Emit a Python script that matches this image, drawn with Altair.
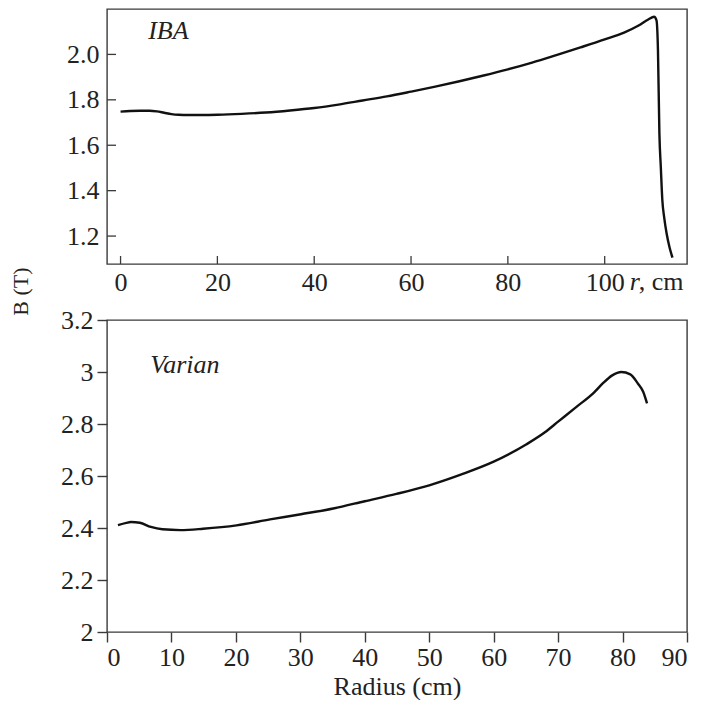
import altair as alt
import pandas as pd

# IBA field profile (radius in cm, B in tesla)
iba_r = [0, 2, 4, 6, 7.5, 9, 10.5, 12, 14, 17, 20, 25, 30, 35, 40, 45, 50, 55, 60,
         65, 70, 75, 80, 85, 90, 95, 100, 104, 107, 109, 110.2, 110.7, 111.0,
         111.3, 111.6, 111.9, 112.3, 112.8, 113.4, 114.0]
iba_b = [1.748, 1.751, 1.752, 1.752, 1.749, 1.743, 1.737, 1.734, 1.733, 1.733, 1.734,
         1.738, 1.744, 1.753, 1.764, 1.779, 1.797, 1.815, 1.836, 1.858, 1.882, 1.907,
         1.934, 1.964, 1.997, 2.031, 2.066, 2.096, 2.127, 2.154, 2.166, 2.150, 2.02,
         1.65, 1.50, 1.36, 1.28, 1.21, 1.15, 1.105]

# Varian field profile
var_r = [1.7, 3.0, 3.7, 5.1, 6.8, 8.6, 11.4, 14.9, 20.1, 25.3, 30.1, 35.1, 40.0,
         44.9, 50.0, 55.0, 60.0, 65.1, 67.9, 70.1, 72.8, 75.6, 77.0, 78.4, 79.8,
         81.2, 82.4, 83.2, 83.8]
var_b = [2.411, 2.420, 2.423, 2.420, 2.404, 2.395, 2.392, 2.397, 2.410, 2.433, 2.453,
         2.475, 2.503, 2.531, 2.564, 2.606, 2.655, 2.722, 2.767, 2.811, 2.865, 2.922,
         2.958, 2.987, 3.000, 2.991, 2.955, 2.924, 2.879]

iba_xticks = [0, 20, 40, 60, 80, 100]
iba_yticks = [1.2, 1.4, 1.6, 1.8, 2.0]
var_xticks = [0, 10, 20, 30, 40, 50, 60, 70, 80, 90]
var_yticks = [2.0, 2.2, 2.4, 2.6, 2.8, 3.0, 3.2]

panel_labels = ["IBA", "Varian"]
unit_label_r = "r"
unit_label_rest = ", cm"
x_title = "Radius (cm)"
y_title = "B (T)"

FONT = "Liberation Serif"
INK = "#222222"
FRAME = "#3a3a3a"
W = 580
H1 = 255
H2 = 312
FS = 26

iba = pd.DataFrame({"r": iba_r, "B": iba_b})
var = pd.DataFrame({"r": var_r, "B": var_b})

# ---------------- top panel (IBA) ----------------
xs1 = alt.Scale(domain=[-2.8, 117], nice=False, zero=False)
ys1 = alt.Scale(domain=[1.077, 2.20], nice=False, zero=False)

line1 = alt.Chart(iba).mark_line(color="#111111", strokeWidth=2.4, interpolate="monotone").encode(
    x=alt.X("r:Q", scale=xs1,
            axis=alt.Axis(values=iba_xticks, ticks=False, domain=False, grid=False,
                          labelPadding=5, title=None, labelFontSize=FS, labelFont=FONT)),
    y=alt.Y("B:Q", scale=ys1,
            axis=alt.Axis(values=iba_yticks, ticks=False, domain=False, grid=False,
                          format=".1f", labelPadding=8, labelFontSize=FS, labelFont=FONT,
                          title=y_title, titleX=-87, titleY=282, titleAngle=-90,
                          titleAlign="center", titleBaseline="middle", titleFont=FONT,
                          titleFontSize=22, titleFontWeight="normal")),
)

xt1 = alt.Chart(pd.DataFrame({"r": iba_xticks})).mark_rule(color=FRAME, strokeWidth=1.3).encode(
    x="r:Q", y=alt.value(H1), y2=alt.value(H1 - 8))
yt1 = alt.Chart(pd.DataFrame({"B": iba_yticks})).mark_rule(color=FRAME, strokeWidth=1.3).encode(
    y="B:Q", x=alt.value(0), x2=alt.value(9))

lab1 = alt.Chart(pd.DataFrame({"r": [5.7], "B": [2.07], "t": [panel_labels[0]]})).mark_text(
    font=FONT, fontSize=26, fontStyle="italic", align="left", baseline="alphabetic", color=INK
).encode(x="r:Q", y="B:Q", text="t:N")

unit_r = alt.Chart(pd.DataFrame({"r": [100], "t": [unit_label_r]})).mark_text(
    font=FONT, fontSize=FS, fontStyle="italic", align="left", baseline="top", color=INK, dx=25
).encode(x="r:Q", y=alt.value(H1 + 5), text="t:N")
unit_rest = alt.Chart(pd.DataFrame({"r": [100], "t": [unit_label_rest]})).mark_text(
    font=FONT, fontSize=FS, align="left", baseline="top", color=INK, dx=34
).encode(x="r:Q", y=alt.value(H1 + 5), text="t:N")

top = alt.layer(line1, xt1, yt1, lab1, unit_r, unit_rest).properties(width=W, height=H1)

# ---------------- bottom panel (Varian) ----------------
xs2 = alt.Scale(domain=[0, 90], nice=False, zero=False)
ys2 = alt.Scale(domain=[2.0, 3.2], nice=False, zero=False)

line2 = alt.Chart(var).mark_line(color="#111111", strokeWidth=2.4, interpolate="monotone").encode(
    x=alt.X("r:Q", scale=xs2,
            axis=alt.Axis(values=var_xticks, ticks=True, tickSize=10, domain=False, grid=False,
                          labelPadding=2, labelFontSize=FS, labelFont=FONT, title=x_title,
                          titleFont=FONT, titleFontSize=26, titleFontWeight="normal",
                          titlePadding=3)),
    y=alt.Y("B:Q", scale=ys2,
            axis=alt.Axis(values=var_yticks, ticks=True, tickSize=10, domain=False, grid=False,
                          format=".1~f", labelPadding=4, labelFontSize=FS, labelFont=FONT,
                          title=None)),
)

lab2 = alt.Chart(pd.DataFrame({"r": [6.7], "B": [2.997], "t": [panel_labels[1]]})).mark_text(
    font=FONT, fontSize=26, fontStyle="italic", align="left", baseline="alphabetic", color=INK
).encode(x="r:Q", y="B:Q", text="t:N")

bottom = alt.layer(line2, lab2).properties(width=W, height=H2)

chart = alt.vconcat(top, bottom, spacing=56, bounds="flush").properties(
    padding=0, background="white"
).configure_view(
    stroke=FRAME, strokeWidth=1.4
).configure_axis(
    labelFont=FONT, titleFont=FONT, labelColor=INK, titleColor=INK,
    tickColor=FRAME, tickWidth=1.4,
)

chart.save("out.html", embed_options={"renderer": "svg", "actions": False})
